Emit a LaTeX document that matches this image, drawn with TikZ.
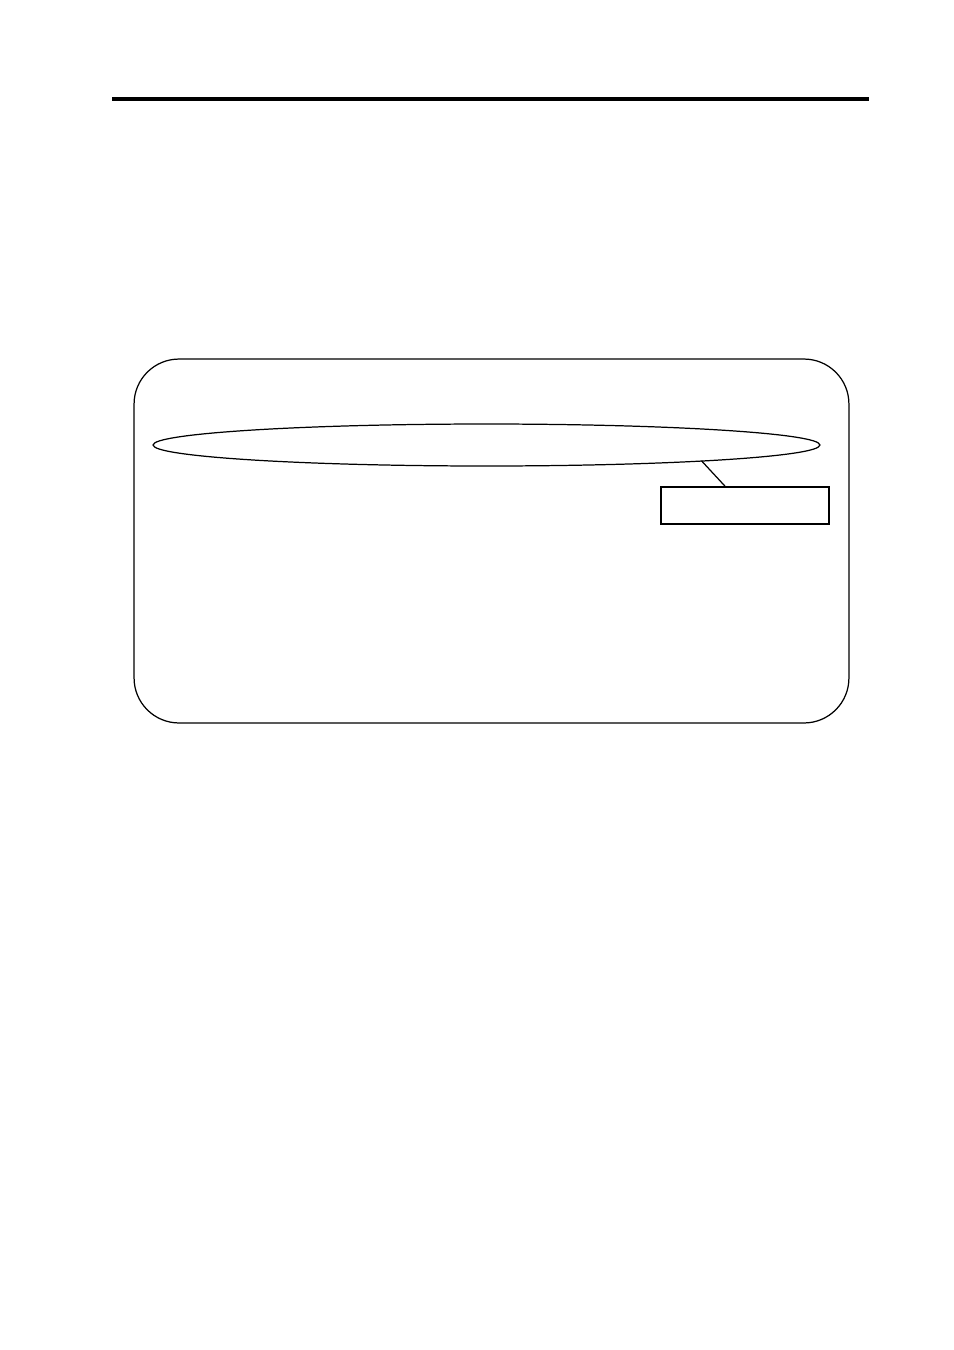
\documentclass[tikz,border=0pt]{standalone}
\usepackage{tikz}
\usetikzlibrary{shapes.geometric}

\tikzset{
  panel/.style={draw,line width=0.7pt,rounded corners=0.9cm,minimum width=14.3cm,minimum height=7.28cm,inner sep=0pt},
  zone/.style={draw,ellipse,line width=0.7pt,minimum width=13.34cm,minimum height=0.84cm,inner sep=0pt},
  tagbox/.style={draw,rectangle,line width=0.7pt,minimum width=3.36cm,minimum height=0.74cm,inner sep=0pt},
  link/.style={draw,line width=0.7pt}
}

\begin{document}
\begin{tikzpicture}[x=0.02cm,y=-0.02cm]
\useasboundingbox (0,0) rectangle (954,1350);
% header rule
\draw[line width=2.3pt] (112,99) -- (869,99);
\node[panel] (frame) at (491.5,541) {};
\node[zone] (band) at (486.5,445) {};
\node[tagbox] (tag) at (745,505.5) {};
\path (band.center) ++(215,15.8) coordinate (hook);
\draw[link] (hook) -- (tag.136);
\end{tikzpicture}
\end{document}
